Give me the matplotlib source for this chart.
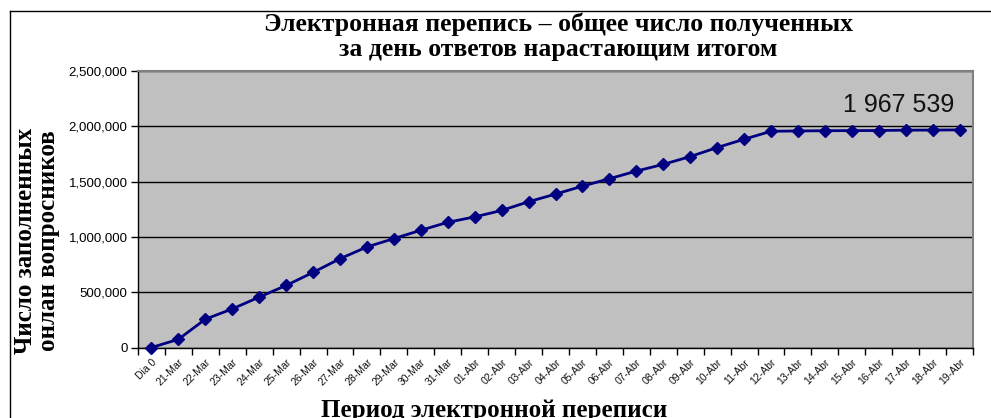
import matplotlib
matplotlib.use("Agg")
import matplotlib.pyplot as plt
from matplotlib.lines import Line2D
from matplotlib.ticker import FixedLocator

categories = ["Dia 0", "21-Mar", "22-Mar", "23-Mar", "24-Mar", "25-Mar", "26-Mar",
              "27-Mar", "28-Mar", "29-Mar", "30-Mar", "31-Mar", "01-Abr", "02-Abr",
              "03-Abr", "04-Abr", "05-Abr", "06-Abr", "07-Abr", "08-Abr", "09-Abr",
              "10-Abr", "11-Abr", "12-Abr", "13-Abr", "14-Abr", "15-Abr", "16-Abr",
              "17-Abr", "18-Abr", "19-Abr"]
values = [0, 74000, 256000, 349000, 456000, 561000, 679000,
          803000, 909000, 985000, 1060000, 1132000, 1181000, 1239000,
          1318000, 1387000, 1459000, 1526000, 1595000, 1656000, 1726000,
          1808000, 1883000, 1955000, 1958000, 1960000, 1961000, 1962000,
          1965000, 1966000, 1967539]
ytick_values = [0, 500000, 1000000, 1500000, 2000000, 2500000]
ytick_labels = ["0", "500,000", "1,000,000", "1,500,000", "2,000,000", "2,500,000"]
title_text = "Электронная перепись – общее число полученных\nза день ответов нарастающим итогом"
ylabel_text = "Число заполненных\nонлан вопросников"
xlabel_text = "Период электронной переписи"
annotation_text = "1 967 539"

W, H = 991, 418
fig = plt.figure(figsize=(W / 100, H / 100), dpi=100)
fig.patch.set_facecolor("white")

ax_l, ax_r, ax_t, ax_b = 138, 973, 71, 347.5
ax = fig.add_axes([ax_l / W, 1 - ax_b / H, (ax_r - ax_l) / W, (ax_b - ax_t) / H])
ax.set_facecolor("#C0C0C0")

x = list(range(len(categories)))
ax.plot(x, values, color="#000080", lw=2.0, marker="D", markersize=6.5,
        markerfacecolor="#000080", markeredgecolor="#000080", zorder=3, clip_on=False)

ax.set_xlim(-0.5, len(categories) - 0.5)
ax.set_ylim(0, 2500000)

ax.set_yticks(ytick_values)
ax.set_yticklabels(ytick_labels, fontfamily="Liberation Sans", fontsize=9.5, color="#111111")
ax.yaxis.grid(True, color="black", lw=1.0)
ax.set_axisbelow(True)
ax.tick_params(axis="y", direction="out", length=5, width=1, pad=2.5, colors="black")

ax.set_xticks(x)
ax.set_xticklabels(categories, fontfamily="Liberation Sans", fontsize=7.5, rotation=45,
                   ha="right", va="top", rotation_mode="anchor", color="#111111")
ax.xaxis.set_minor_locator(FixedLocator([i - 0.5 for i in range(len(categories) + 1)]))
ax.tick_params(axis="x", which="major", length=0, pad=7)
ax.tick_params(axis="x", which="minor", direction="out", length=5, width=1, colors="black")

for s in ["left", "bottom"]:
    ax.spines[s].set_color("black")
    ax.spines[s].set_linewidth(1.0)
for s in ["top", "right"]:
    ax.spines[s].set_color("#808080")
    ax.spines[s].set_linewidth(1.5)

ax.text(0.978, 0.852, annotation_text, transform=ax.transAxes, ha="right", va="baseline",
        fontfamily="Liberation Sans", fontsize=18, color="#111111")

fig.text(558 / W, 1 - 13 / H, title_text, ha="center", va="top", fontfamily="Liberation Serif",
         fontweight="bold", fontsize=18.5, linespacing=1.08)
fig.text(37 / W, 1 - 241 / H, ylabel_text, ha="center", va="center", rotation=90,
         fontfamily="Liberation Serif", fontweight="bold", fontsize=18, linespacing=0.98,
         multialignment="center")
fig.text(494 / W, 1 - 399 / H, xlabel_text, ha="center", va="top", fontfamily="Liberation Serif",
         fontweight="bold", fontsize=18)

fig.add_artist(Line2D([10 / W, 10 / W], [0, 1 - 11 / H], color="black", lw=1.0))
fig.add_artist(Line2D([10 / W, 1], [1 - 11 / H, 1 - 11 / H], color="black", lw=1.0))

fig.savefig("out.png", dpi=100)
